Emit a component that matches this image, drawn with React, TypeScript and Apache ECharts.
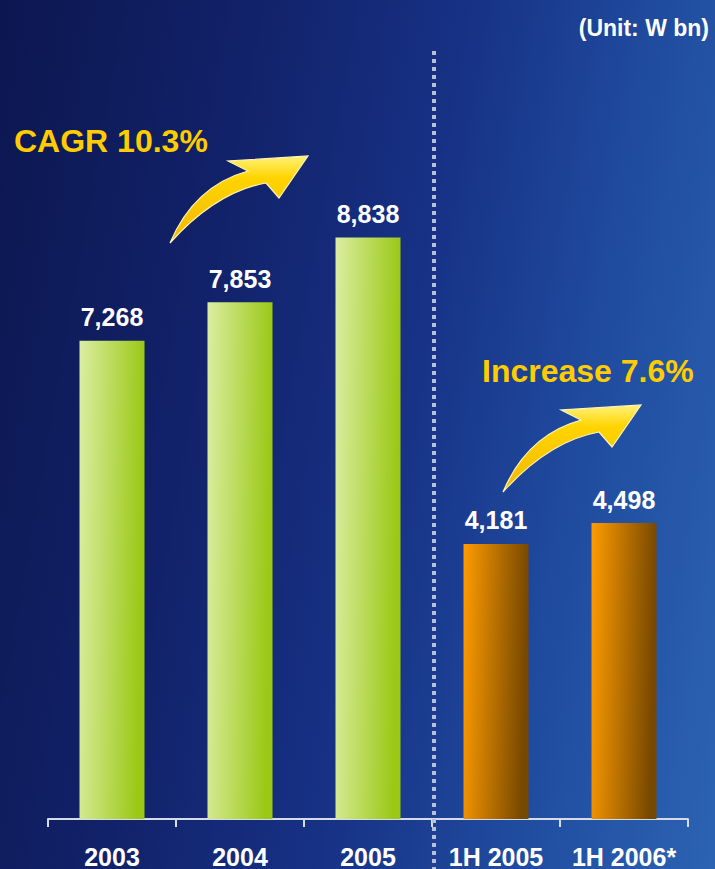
import React, { useEffect, useRef } from "react";
import * as echarts from "echarts";

const categories = ["2003", "2004", "2005", "1H 2005", "1H 2006*"];
const values = [7268, 7853, 8838, 4181, 4498];
const groups = ["annual", "annual", "annual", "half", "half"];
const unitText = "(Unit: W bn)";
const cagrText = "CAGR 10.3%";
const increaseText = "Increase 7.6%";

const ARROW_D =
  "M0 87 Q24 30 78 15 L58 5 L138 0 L109 42 L96 27 Q46 36 0 87 Z";

let registered = false;
function ensureShape() {
  if (registered) return;
  echarts.graphic.registerShape("logo", echarts.graphic.extendPath(ARROW_D, {}) as any);
  registered = true;
}

export default function App() {
  const ref = useRef<HTMLDivElement>(null);
  useEffect(() => {
    ensureShape();
    document.body.style.margin = "0";
    const chart = echarts.init(ref.current!, null, { renderer: "svg" });
    const green = new echarts.graphic.LinearGradient(0, 0, 1, 0.12, [
      { offset: 0, color: "#dbeea2" },
      { offset: 1, color: "#9ac814" },
    ]);
    const orange = new echarts.graphic.LinearGradient(0, 0, 1, 0.12, [
      { offset: 0, color: "#ff9c00" },
      { offset: 1, color: "#774800" },
    ]);
    const arrowFill = new echarts.graphic.LinearGradient(0, 0, 0, 1, [
      { offset: 0, color: "#fff27a" },
      { offset: 0.25, color: "#ffd400" },
      { offset: 1, color: "#f2b800" },
    ]);
    const arrowStyle = { fill: arrowFill, stroke: "#fff4b8", lineWidth: 1.2 };
    chart.setOption({
      animation: false,
      backgroundColor: "transparent",
      grid: { left: 48, right: 27, top: 161, bottom: 50 },
      xAxis: {
        type: "category",
        data: categories,
        axisLine: { show: true, lineStyle: { color: "#d6dbe8", width: 2 } },
        axisTick: { show: true, length: 8, lineStyle: { color: "#d6dbe8", width: 2 } },
        axisLabel: {
          show: true,
          interval: 0,
          color: "#ffffff",
          fontFamily: "Liberation Sans, Arial, sans-serif",
          fontWeight: "bold",
          fontSize: 25,
          margin: 25,
        },
      },
      yAxis: { type: "value", min: 0, max: 10000, show: false },
      series: [
        {
          type: "bar",
          barWidth: 65,
          data: values.map((v, i) => ({
            value: v,
            itemStyle: { color: groups[i] === "annual" ? green : orange },
          })),
          label: {
            show: true,
            position: "top",
            distance: 11,
            color: "#ffffff",
            fontFamily: "Liberation Sans, Arial, sans-serif",
            fontWeight: "bold",
            fontSize: 25,
            formatter: (p: any) => Number(p.value).toLocaleString("en-US"),
          },
        },
      ],
      graphic: [
        {
          type: "line",
          shape: { x1: 434, y1: 51, x2: 434, y2: 869 },
          style: { stroke: "#b8c0d4", lineWidth: 4, lineDash: [4, 4] },
          z: 1,
        },
        {
          type: "text",
          right: 6,
          top: 16,
          style: {
            text: unitText,
            fill: "#ffffff",
            font: "bold 23px Liberation Sans, Arial, sans-serif",
          },
        },
        {
          type: "text",
          x: 14,
          y: 141,
          style: {
            text: cagrText,
            fill: "#ffcc00",
            font: "bold 32px Liberation Sans, Arial, sans-serif",
            verticalAlign: "middle",
          },
        },
        {
          type: "text",
          x: 482,
          y: 371,
          style: {
            text: increaseText,
            fill: "#ffcc00",
            font: "bold 32px Liberation Sans, Arial, sans-serif",
            verticalAlign: "middle",
          },
        },
        { type: "logo", x: 170, y: 156, style: arrowStyle },
        { type: "logo", x: 503, y: 405, style: arrowStyle },
      ],
    });
    return () => chart.dispose();
  }, []);
  return (
    <div
      style={{
        position: "fixed",
        left: 0,
        top: 0,
        width: 715,
        height: 869,
        background:
          "linear-gradient(100deg, #0c1750 0%, #12226a 30%, #173286 55%, #1f4a9e 75%, #2c63b3 100%)",
      }}
    >
      <div ref={ref} style={{ width: 715, height: 869 }} />
    </div>
  );
}
